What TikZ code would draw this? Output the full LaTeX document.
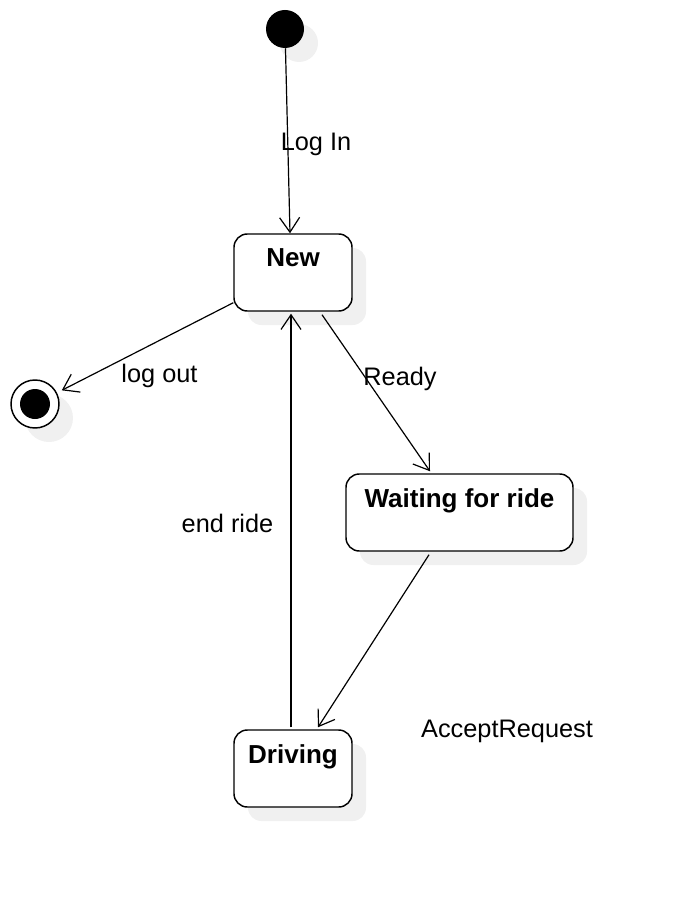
\documentclass[tikz,border=0pt]{standalone}
\usepackage{fontspec}
\setmainfont{Liberation Sans}
\usetikzlibrary{arrows.meta, shadows, calc}

\begin{document}
\begin{tikzpicture}[x=0.75pt, y=-0.75pt,
	shade/.style={drop shadow={shadow xshift=10.5pt, shadow yshift=-10.5pt, fill=black!6, opacity=1}},
	state/.style={shape=rectangle, draw, line width=1.1pt, rounded corners=10pt, fill=white, minimum height=57.75pt, shade},
	trans/.style={line width=0.9pt, -{Straight Barb[length=11pt, width=15pt]}},
	txt/.style={anchor=base, inner sep=0pt, font=\fontsize{19}{23}\selectfont},
	txtb/.style={txt, font=\fontsize{19.5}{23}\selectfont\bfseries}]
	\useasboundingbox (0,0) rectangle (684,898);
	% Start and end points:
	\node[shape=circle, fill=black, minimum size=28.5pt, inner sep=0pt, shade] (start) at (285,29){};
	\node[shape=circle, draw, line width=1.1pt, fill=white, minimum size=36pt, inner sep=0pt, shade] (stop) at (35,404){};
	\node[shape=circle, fill=black, minimum size=22.5pt, inner sep=0pt] (stopdot) at (35,404){};
	% States:
	\node[state, minimum width=88.5pt] (new) at (293,272.5){};
	\node[txtb] (newtxt) at (293,267){New};
	\node[state, minimum width=170.25pt] (wait) at (459.5,512.5){};
	\node[txtb] (waittxt) at (459.5,507){Waiting for ride};
	\node[state, minimum width=88.5pt] (drive) at (293,768.5){};
	\node[txtb] (drivetxt) at (293,763){Driving};
	% Transitions:
	\draw[trans] (start) -- ($(new.north)+(-3,0)$);
	\draw[trans, shorten >=4pt] ($(new.south west)+(0,-9)$) -- (stop);
	\draw[trans] ($(new.south)+(29,3)$) -- ($(wait.north)+(-29.5,-2)$);
	\draw[trans] ($(wait.south)+(-30.5,3)$) -- ($(drive.north)+(25,-2)$);
	\draw[trans] ($(drive.north)+(-2,-2)$) -- ($(new.south)+(-2,2)$);
	% Labels:
	\node[txt] (login) at (316,151){Log In};
	\node[txt] (logout) at (159.5,382){log out};
	\node[txt] (ready) at (400,385){Ready};
	\node[txt] (endride) at (227.5,532){end ride};
	\node[txt] (accept) at (507,737){AcceptRequest};
\end{tikzpicture}
\end{document}
